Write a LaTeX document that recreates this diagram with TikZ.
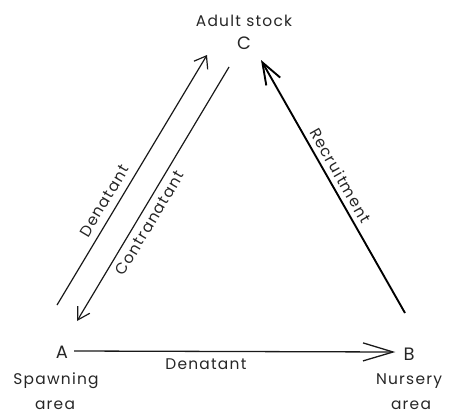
\documentclass[tikz,border=0pt]{standalone}
\usepackage{fontspec}
\setmainfont{Poppins}
\usetikzlibrary{arrows.meta,positioning,calc}

\begin{document}
\begin{tikzpicture}[
  x=1bp,y=1bp,
  lbl/.style={font=\fontsize{15.5}{15.5}\selectfont\addfontfeature{LetterSpace=8}, text=black!85, inner sep=1pt},
  site/.style={font=\fontsize{18}{18}\selectfont, text=black!85, inner sep=1pt},
  flow/.style={
    draw=black!90,
    line width=1.2pt,
    -{Straight Barb[length=11bp,width=16bp,line width=1.2pt]}
  },
  backflow/.style={
    draw=black!90,
    line width=1.2pt,
    {Straight Barb[length=12bp,width=14bp,line width=1.2pt]}-
  },
  recruit/.style={
    draw=black,
    line width=1.9pt,
    -{Straight Barb[length=22bp,width=16bp,line width=1.9pt]}
  },
  drift/.style={
    draw=black!90,
    line width=1.3pt,
    -{Straight Barb[length=30bp,width=18bp,line width=1.3pt]}
  },
]
\useasboundingbox (0,0) rectangle (456,416);

% Nodes (the three areas)
\node[site] (C) at (244,373) {C};
\node[lbl, above=8bp of C] (Cname) {Adult stock};
\node[site] (A) at (62,64) {A};
\node[lbl] (Aname) at (56,35) {Spawning};
\node[lbl] (Aname2) at (55,11) {area};
\node[site] (B) at (409,62) {B};
\node[lbl] (Bname) at (409,35) {Nursery};
\node[lbl] (Bname2) at (411,11) {area};

% Arrow ends (offset from the letters, like the drawing)
\coordinate (AtoC0) at (57,111);
\coordinate (AtoC1) at (207,361);
\coordinate (CtoA0) at (77,95);
\coordinate (CtoA1) at (229,349);
\coordinate (BtoC0) at (405,103);
\coordinate (BtoC1) at (261,356);
\coordinate (AtoB0) at ($(A.east)+(5,1)$);
\coordinate (AtoB1) at ($(B.west)+(-7,2)$);

% Left side: there and back
\draw[flow] (AtoC0) -- node[lbl, pos=0.39, sloped, above=6bp] {Denatant} (AtoC1);
\draw[backflow] (CtoA0) -- node[lbl, pos=0.41, sloped, below=5bp] {Contranatant} (CtoA1);

% Right side: B back up to C
\draw[recruit] (BtoC0) -- node[lbl, pos=0.52, sloped, above=4bp] {Recruitment} (BtoC1);

% Bottom: A over to B
\draw[drift] (AtoB0) -- node[lbl, pos=0.41, below=6bp] {Denatant} (AtoB1);

\end{tikzpicture}
\end{document}
